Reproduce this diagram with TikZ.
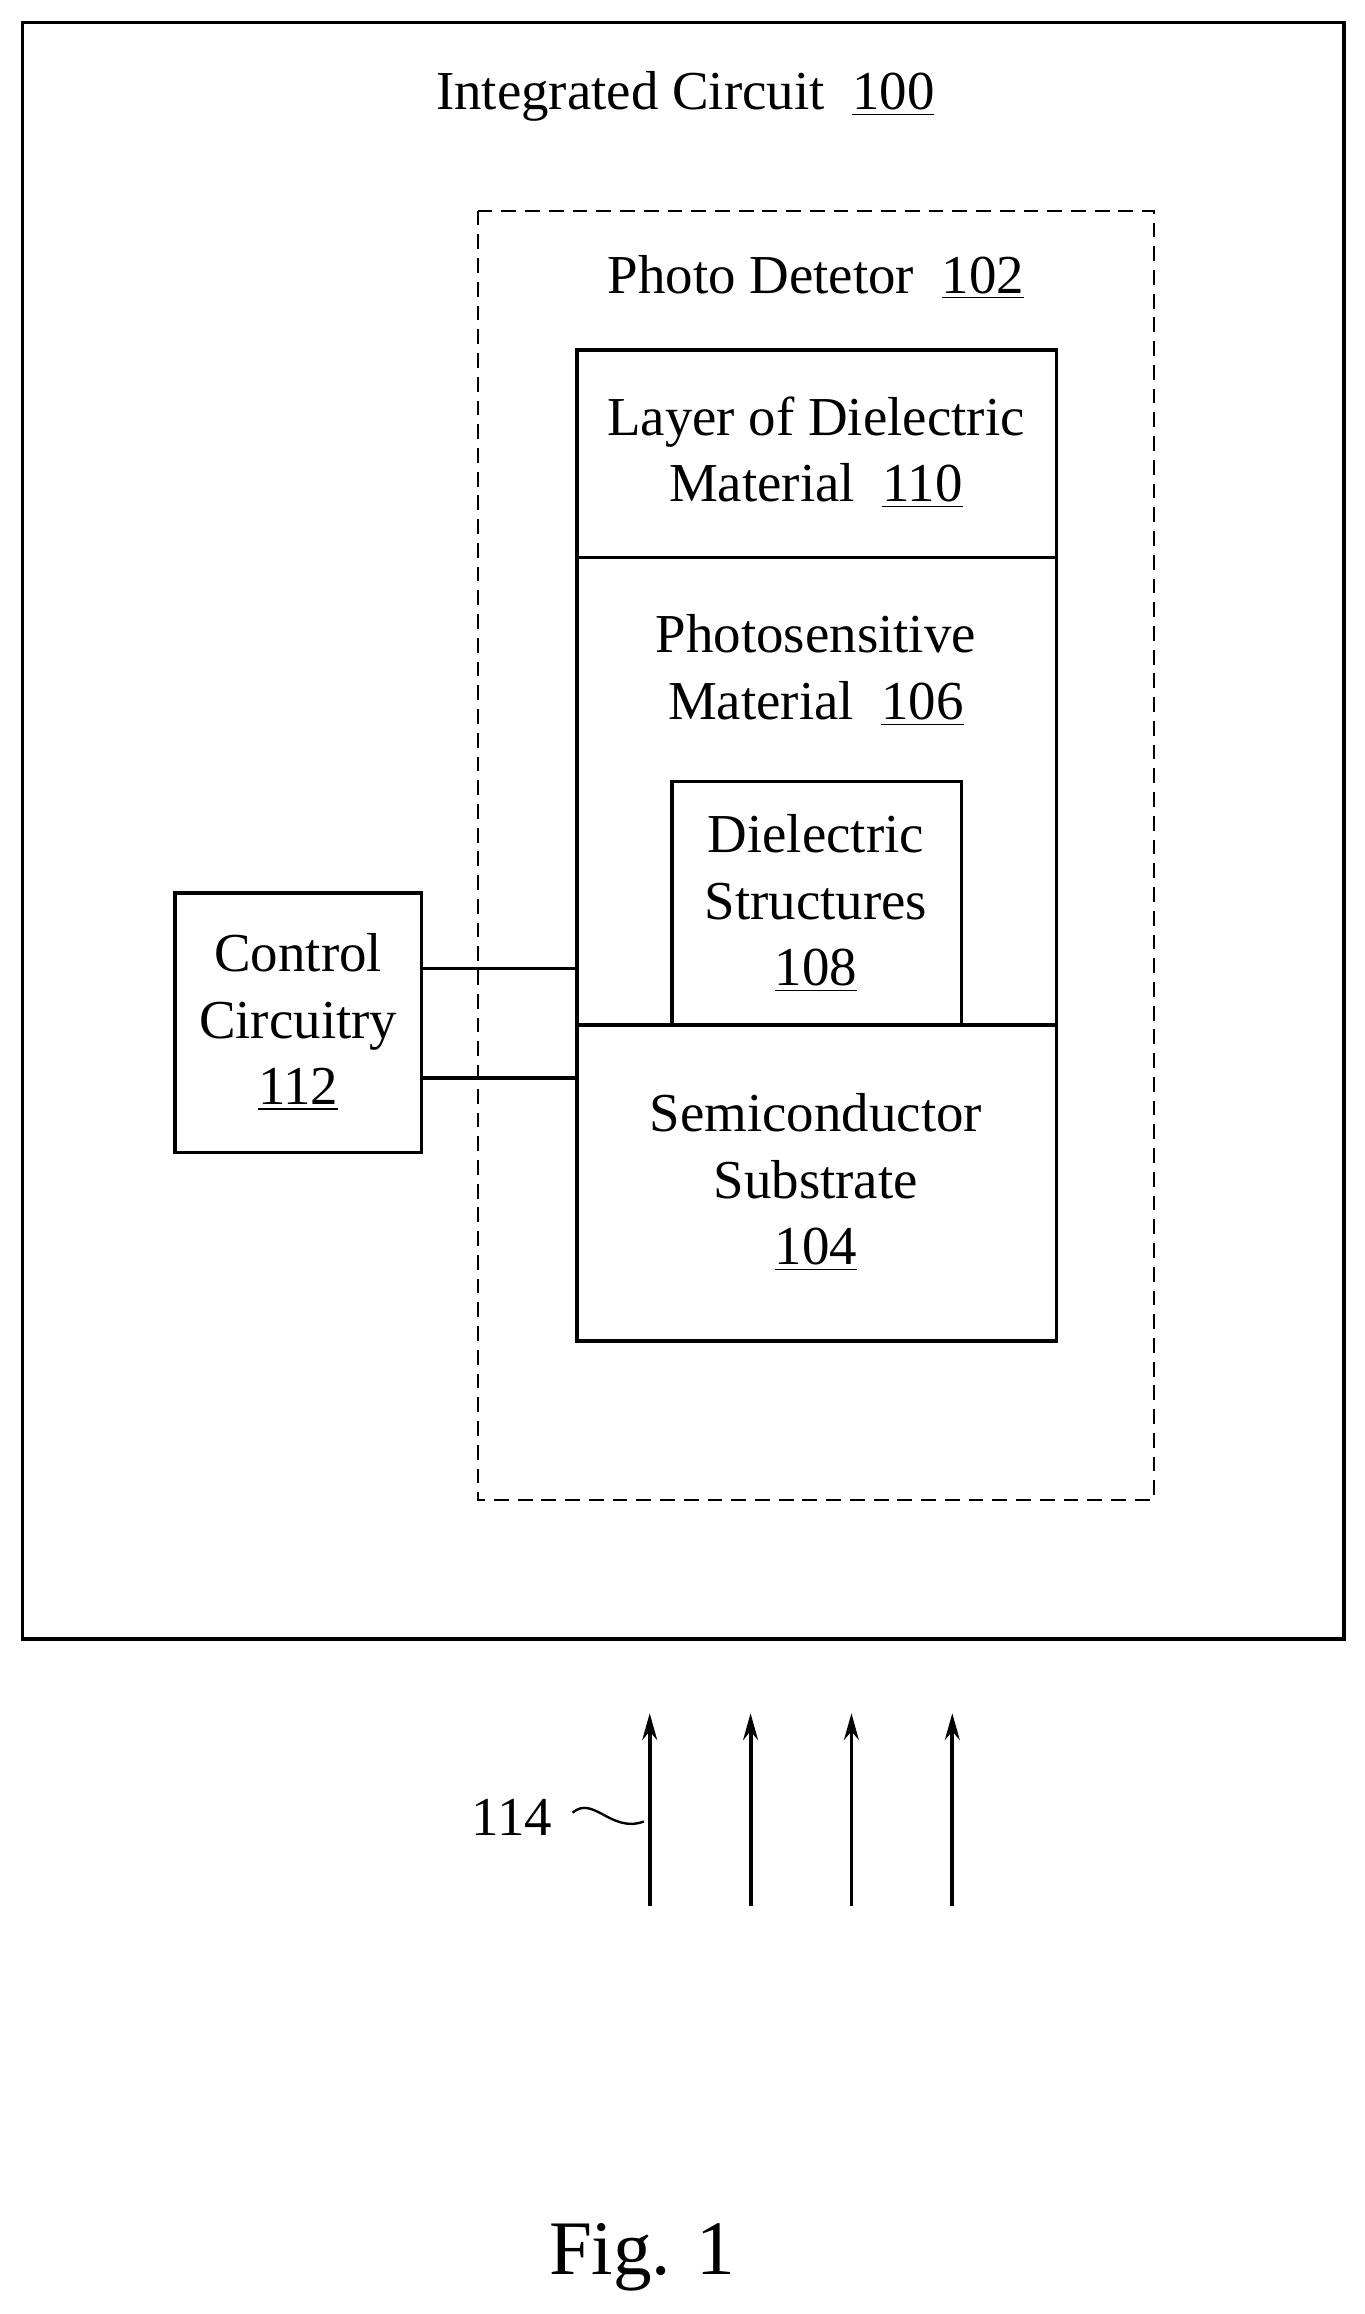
\documentclass[tikz,border=0pt]{standalone}
\usepackage{fontspec}
\setmainfont{Liberation Serif}
\usetikzlibrary{arrows.meta,positioning}
\tikzset{
  blk/.style={draw, line width=1.1pt},
  lbl/.style={align=center, font=\fontsize{18.5}{22.5}\selectfont},
  ray/.style={line width=1.3pt, -{Stealth[length=9pt,width=5pt]}}
}
\begin{document}
\begin{tikzpicture}[x=0.5pt,y=-0.5pt]
  \useasboundingbox (0,0) rectangle (920,1560);
  % outer and dashed frames
  \draw [blk] (15,15) rectangle (906,1105);
  \node [lbl] (ic) at (462,65) {Integrated Circuit\ \ \underline{100}};
  \draw [line width=0.6pt, dash pattern={on 5pt off 3pt}] (322,142) rectangle (778,1011);
  \node [lbl] (pd) at (550,187) {Photo Detetor\ \ \underline{102}};
  % layer stack
  \draw [blk] (389,236) rectangle (712,376);
  \node [lbl] (diel) at (550,305) {Layer of Dielectric\\Material\ \ \underline{110}};
  \draw [blk] (389,376) rectangle (712,691);
  \node [lbl] (photo) at (550,452) {Photosensitive\\Material\ \ \underline{106}};
  \draw [blk] (453,527) rectangle (648,691);
  \node [lbl] (struct) at (550,609) {Dielectric\\Structures\\\underline{108}};
  \draw [blk] (389,691) rectangle (712,904);
  \node [lbl] (sub) at (550,797) {Semiconductor\\Substrate\\\underline{104}};
  % control circuitry
  \draw [blk] (118,602) rectangle (284,777);
  \node [lbl] (ctrl) at (201,689) {Control\\Circuitry\\\underline{112}};
  \coordinate (c1) at (284,653);
  \coordinate (p1) at (389,653);
  \coordinate (c2) at (284,727);
  \coordinate (s1) at (389,727);
  \draw [line width=1.1pt] (c1) -- (p1);
  \draw [line width=1.4pt] (c2) -- (s1);
  % incoming light
  \foreach \x [count=\i] in {438,506,574,642} {
    \coordinate (r\i) at (\x,1285);
    \coordinate (t\i) at (\x,1155);
    \draw [ray] (r\i) -- (t\i);
  }
  \node [lbl] (light) at (345,1225) {114};
  \draw [line width=0.8pt] (386,1222) .. controls (400,1210) and (412,1236) .. (434,1228);
  \node [font=\fontsize{26}{30}\selectfont] (fig) at (433,1522) {Fig. 1};
\end{tikzpicture}
\end{document}
